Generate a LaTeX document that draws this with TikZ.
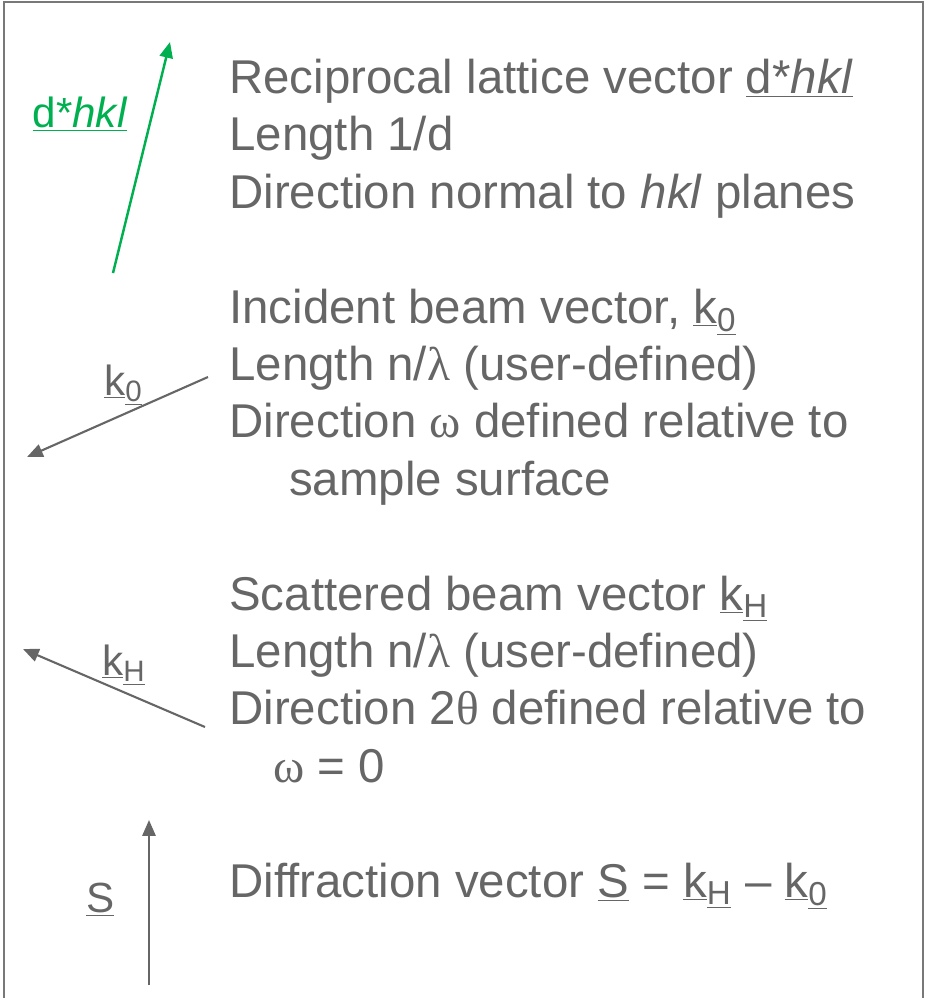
\documentclass[tikz,border=0pt]{standalone}
\usepackage{fontspec}
\setmainfont{Liberation Sans}
\newfontfamily\grkfont{Liberation Serif}
\usetikzlibrary{arrows.meta,positioning}
\definecolor{txtgray}{RGB}{102,102,102}
\definecolor{framegray}{RGB}{120,120,120}
\definecolor{recipgreen}{RGB}{0,176,80}
\newcommand{\uvec}[2]{\underline{#1}\textsubscript{\underline{#2}}}
\newcommand{\grk}[1]{{\grkfont #1}}

\begin{document}
\begin{tikzpicture}[
  x=0.02cm, y=-0.02cm,
  desc/.style={anchor=base west, align=left, inner sep=0pt, text=txtgray,
               font=\fontsize{27}{32.6}\selectfont},
  lbl/.style={inner sep=0pt, text=txtgray, font=\fontsize{24}{28}\selectfont},
  vec/.style={-{Triangle[length=9pt,width=7.5pt]}, line width=1.2pt, draw=txtgray}
]
  \useasboundingbox (0,0) rectangle (926,998);
  % open frame, bottom edge runs off the page
  \draw[framegray, line width=1.1pt] (4,998) -- (4,2) -- (923,2) -- (923,998);

  % descriptions (base anchor sits on the last line)
  \node[desc] (recip) at (229,208) {Reciprocal lattice vector \underline{d*\textit{hkl}}\\
                    Length 1/d\\
                    Direction normal to \textit{hkl} planes};
  \node[desc] (incid) at (229,495) {Incident beam vector, \uvec{k}{0}\\
                    Length n/\grk{λ} (user-defined)\\
                    Direction \grk{ω} defined relative to\\
                    \hspace*{34pt}sample surface};
  \node[desc] (scatt) at (229,782) {Scattered beam vector \uvec{k}{H}\\
                    Length n/\grk{λ} (user-defined)\\
                    Direction 2\grk{θ} defined relative to\\
                    \hspace*{25pt}\grk{ω} = 0};
  \node[desc] (diffr) at (229,897) {Diffraction vector \underline{S} = \uvec{k}{H} -- \uvec{k}{0}};

  % vectors
  \coordinate (dstart) at (113,273);
  \coordinate (dtip) at (170,42);
  \coordinate (k0start) at (208,377);
  \coordinate (k0tip) at (27,457);
  \coordinate (kHstart) at (205,727);
  \coordinate (kHtip) at (23,649);
  \coordinate (Sstart) at (149,985);
  \coordinate (Stip) at (149,820);
  \draw[vec, draw=recipgreen, line width=1.4pt] (dstart) -- (dtip);
  \draw[vec] (k0start) -- (k0tip);
  \draw[vec] (kHstart) -- (kHtip);
  \draw[vec] (Sstart) -- (Stip);

  % vector labels
  \node[lbl, anchor=base, text=recipgreen] (dlbl) at (80,127) {\underline{d*\textit{hkl}}};
  \node[lbl, anchor=base west] (k0lbl) at (104,395) {\uvec{k}{0}};
  \node[lbl, anchor=base west] (kHlbl) at (102,675) {\uvec{k}{H}};
  \node[lbl, anchor=base west] (Slbl) at (86,912) {\underline{S}};
\end{tikzpicture}
\end{document}
